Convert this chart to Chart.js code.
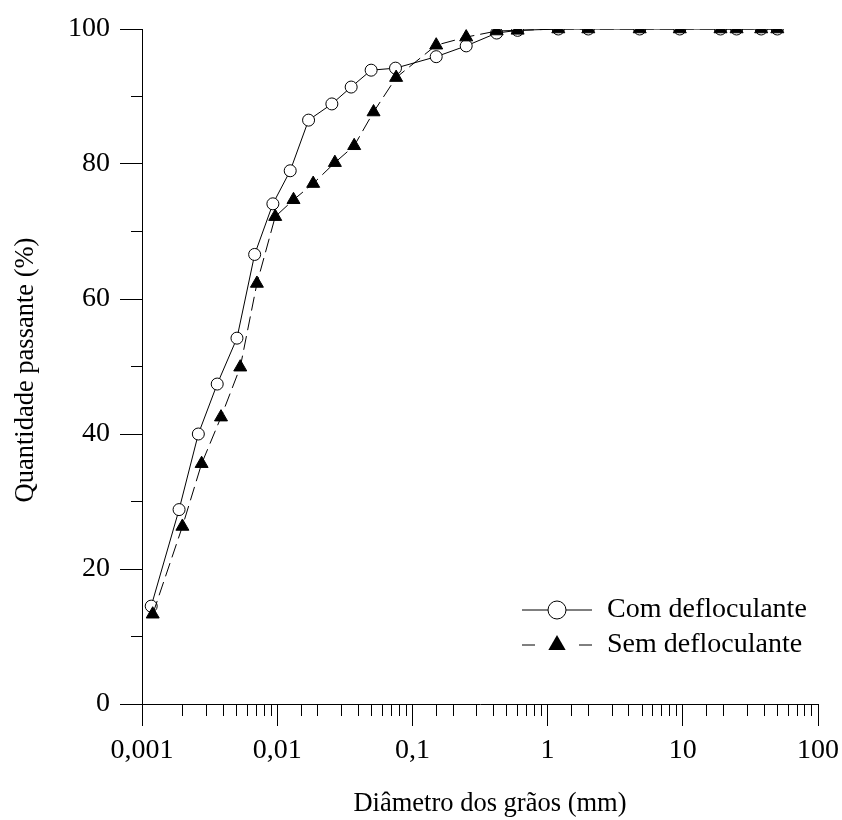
<!DOCTYPE html>
<html>
<head>
<meta charset="utf-8">
<script src="https://cdn.jsdelivr.net/npm/chart.js@4/dist/chart.umd.min.js"></script>
<style>
html, body { margin: 0; padding: 0; background: #fff; }
canvas { display: block; }
</style>
</head>
<body>
<canvas id="c" width="842" height="820"></canvas>
<script>
// ---- data ----
const diamCom = [0.00117, 0.00188, 0.00261, 0.0036, 0.00504, 0.00681, 0.00929, 0.01248, 0.01706, 0.02537, 0.03524, 0.04952, 0.075, 0.15, 0.25, 0.42, 0.6, 1.2, 2.0, 4.8, 9.5, 19, 25, 38, 50];
const passCom = [14.5, 28.8, 40.0, 47.4, 54.2, 66.6, 74.1, 79.0, 86.5, 88.9, 91.4, 93.9, 94.2, 95.9, 97.5, 99.4, 99.8, 100, 100, 100, 100, 100, 100, 100, 100];
const diamSem = [0.0012, 0.00199, 0.00276, 0.00384, 0.00533, 0.00708, 0.00967, 0.0132, 0.01846, 0.0267, 0.0371, 0.0516, 0.0758, 0.15, 0.25, 0.42, 0.6, 1.2, 2.0, 4.8, 9.5, 19, 25, 38, 50];
const passSem = [13.3, 26.3, 35.6, 42.5, 49.9, 62.3, 72.2, 74.7, 77.1, 80.2, 82.7, 87.7, 92.8, 97.6, 98.8, 99.7, 99.8, 100, 100, 100, 100, 100, 100, 100, 100];
const seriesNames = ['Com defloculante', 'Sem defloculante'];
const xTickValues = [0.001, 0.01, 0.1, 1, 10, 100];
const xTickLabels = ['0,001', '0,01', '0,1', '1', '10', '100'];
const yTickValues = [0, 20, 40, 60, 80, 100];
const yTickLabels = ['0', '20', '40', '60', '80', '100'];
const xTitle = 'Diâmetro dos grãos (mm)';
const yTitle = 'Quantidade passante (%)';

const FONT = '"Liberation Serif", "Times New Roman", serif';
const FS = 28;

function toPts(xs, ys) { return xs.map((x, i) => ({ x: x, y: ys[i] })); }
function isDecade(v) { const l = Math.log10(v); return Math.abs(l - Math.round(l)) < 1e-6; }

const titlesAndLegend = {
  id: 'titlesAndLegend',
  afterDraw(chart) {
    const ctx = chart.ctx;
    ctx.save();
    ctx.fillStyle = '#000';
    // x title
    ctx.font = '26.5px ' + FONT;
    ctx.textAlign = 'center';
    ctx.textBaseline = 'middle';
    ctx.fillText(xTitle, 490, 804);
    // y title
    ctx.save();
    ctx.font = '26.5px ' + FONT;
    ctx.translate(26, 370);
    ctx.rotate(-Math.PI / 2);
    ctx.fillText(yTitle, 0, 0);
    ctx.restore();
    // legend
    ctx.font = FS + 'px ' + FONT;
    const rows = [610, 645];
    const x0 = 522, x1 = 592, xm = 557;
    ctx.strokeStyle = '#000';
    ctx.lineWidth = 1;
    // row 1: solid line + open circle
    ctx.beginPath(); ctx.moveTo(x0, rows[0]); ctx.lineTo(x1, rows[0]); ctx.stroke();
    ctx.beginPath(); ctx.arc(xm, rows[0], 9, 0, Math.PI * 2);
    ctx.fillStyle = '#fff'; ctx.fill(); ctx.stroke();
    // row 2: dashed line + filled triangle
    ctx.beginPath(); ctx.moveTo(x0, rows[1]); ctx.lineTo(x0 + 13, rows[1]); ctx.stroke();
    ctx.beginPath(); ctx.moveTo(x1 - 13, rows[1]); ctx.lineTo(x1, rows[1]); ctx.stroke();
    const r = 10;
    ctx.beginPath();
    ctx.moveTo(xm, rows[1] - r);
    ctx.lineTo(xm + r * Math.sin(2 * Math.PI / 3), rows[1] - r * Math.cos(2 * Math.PI / 3));
    ctx.lineTo(xm + r * Math.sin(4 * Math.PI / 3), rows[1] - r * Math.cos(4 * Math.PI / 3));
    ctx.closePath();
    ctx.fillStyle = '#000'; ctx.fill();
    // legend texts
    ctx.fillStyle = '#000';
    ctx.textAlign = 'left';
    ctx.textBaseline = 'middle';
    ctx.fillText(seriesNames[0], 607, rows[0]);
    ctx.fillText(seriesNames[1], 607, rows[1]);
    ctx.restore();
  }
};

new Chart(document.getElementById('c'), {
  type: 'scatter',
  data: {
    datasets: [
      {
        label: seriesNames[0],
        data: toPts(diamCom, passCom),
        showLine: true,
        borderColor: '#000',
        borderWidth: 1,
        backgroundColor: '#fff',
        pointStyle: 'circle',
        pointRadius: 6,
        pointBorderWidth: 1,
        pointBorderColor: '#000',
        pointBackgroundColor: '#fff',
        order: 2
      },
      {
        label: seriesNames[1],
        data: toPts(diamSem, passSem),
        showLine: true,
        borderColor: '#000',
        borderWidth: 1,
        borderDash: [14, 6],
        backgroundColor: '#000',
        pointStyle: 'triangle',
        pointRadius: 7.5,
        pointBorderWidth: 1,
        pointBorderColor: '#000',
        pointBackgroundColor: '#000',
        order: 1
      }
    ]
  },
  options: {
    responsive: false,
    animation: false,
    devicePixelRatio: 1,
    layout: { padding: { left: 0, right: 24, top: 29, bottom: 0 } },
    plugins: { legend: { display: false }, tooltip: { enabled: false }, title: { display: false } },
    scales: {
      x: {
        type: 'logarithmic',
        min: 0.001,
        max: 100,
        border: { display: true, color: '#000', width: 1 },
        grid: {
          drawOnChartArea: false,
          drawTicks: true,
          tickLength: 22,
          tickColor: '#000',
          tickWidth: 1,
          tickBorderDash: (ctx) => (ctx.tick && isDecade(ctx.tick.value)) ? [] : [11, 11]
        },
        ticks: {
          autoSkip: false,
          maxRotation: 0,
          padding: 8,
          color: '#000',
          font: { family: FONT, size: FS },
          callback: function (v) {
            if (!isDecade(v)) return '';
            const i = xTickValues.findIndex(t => Math.abs(Math.log10(t) - Math.log10(v)) < 1e-6);
            return i >= 0 ? xTickLabels[i] : '';
          }
        },
        afterFit: (s) => { s.height = 820 - 704; s.paddingLeft = 0; s.paddingRight = 0; }
      },
      y: {
        type: 'linear',
        min: 0,
        max: 100,
        border: { display: true, color: '#000', width: 1 },
        grid: {
          drawOnChartArea: false,
          drawTicks: true,
          tickLength: 22,
          tickColor: '#000',
          tickWidth: 1,
          tickBorderDash: (ctx) => (ctx.tick && ctx.tick.value % 20 === 0) ? [] : [0, 11, 11]
        },
        ticks: {
          stepSize: 10,
          padding: 10,
          color: '#000',
          font: { family: FONT, size: FS },
          callback: function (v) {
            const i = yTickValues.indexOf(v);
            return i >= 0 ? yTickLabels[i] : '';
          }
        },
        afterFit: (s) => { s.width = 142; s.paddingTop = 0; s.paddingBottom = 0; }
      }
    }
  },
  plugins: [titlesAndLegend]
});
</script>
</body>
</html>
